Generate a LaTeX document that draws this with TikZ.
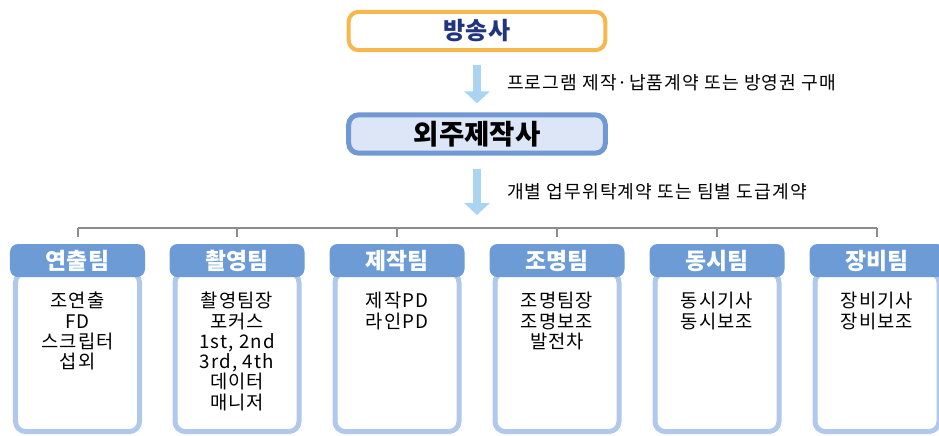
\documentclass[tikz,border=0pt]{standalone}
\usepackage{fontspec}
\setmainfont{Noto Sans CJK KR}
\newfontfamily\krspaced[LetterSpace=6]{Noto Sans CJK KR}
\usetikzlibrary{arrows.meta, positioning}

\definecolor{bcorange}{RGB}{247,183,76}
\definecolor{bcnavy}{RGB}{32,52,128}
\definecolor{prodfill}{RGB}{221,230,247}
\definecolor{prodline}{RGB}{112,153,211}
\definecolor{arrowblue}{RGB}{170,212,242}
\definecolor{teamblue}{RGB}{108,155,214}
\definecolor{bodyline}{RGB}{176,200,236}
\definecolor{busgray}{RGB}{140,140,140}

\begin{document}
\begin{tikzpicture}[x=0.3mm, y=-0.3mm,
	mainbox/.style={rectangle, rounded corners=3mm, minimum width=77mm, minimum height=11.5mm},
	flowarrow/.style={draw=arrowblue, line width=2.4mm, -{Triangle[width=7.5mm, length=3.6mm]}},
	flowlabel/.style={inner sep=0pt, anchor=west, font=\krspaced\fontsize{15.5}{18}\selectfont},
	busline/.style={draw=busgray, line width=0.6mm},
	teamhead/.style={rectangle, rounded corners=2.4mm, fill=teamblue, text=white, minimum width=40.5mm, minimum height=9.9mm, font=\bfseries\fontsize{19.5}{22}\selectfont},
	teambody/.style={rectangle, rounded corners=3mm, draw=bodyline, line width=1.5mm, fill=white, minimum width=37.2mm, minimum height=47.7mm},
	teamlist/.style={inner sep=0pt, anchor=north, align=center, font=\krspaced\fontsize{16}{17.3}\selectfont}
	]
	\clip (0,0) rectangle (939,435);
	
	% Broadcaster and production company
	\node[mainbox, draw=bcorange, line width=1.2mm, fill=white, text=bcnavy, font=\bfseries\fontsize{20.5}{22}\selectfont] (bcast) at (477,31) {방송사};
	\node[mainbox, draw=prodline, line width=1.5mm, fill=prodfill, font=\bfseries\fontsize{23.5}{26}\selectfont] (prod) at (477,134) {외주제작사};
	\coordinate (bus) at (477,228);
	
	% Contracts
	\draw[flowarrow, shorten <=3.9mm, shorten >=2.7mm] (bcast) -- (prod)
		node[flowlabel, midway, right=7.8mm] {프로그램 제작·납품계약 또는 방영권 구매};
	\draw[flowarrow, shorten <=3.9mm, shorten >=3.9mm] (prod.south) -- (bus)
		node[flowlabel, midway, right=7.8mm] {개별 업무위탁계약 또는 팀별 도급계약};
	
	% Team bodies
	\node[teambody] (b1) at (77.5,352) {};
	\node[teambody] (b2) at (237,352) {};
	\node[teambody] (b3) at (397,352) {};
	\node[teambody] (b4) at (557,352) {};
	\node[teambody] (b5) at (717,352) {};
	\node[teambody] (b6) at (877,352) {};
	
	% Team headers
	\node[teamhead] (h1) at (77.5,260.5) {연출팀};
	\node[teamhead] (h2) at (237,260.5) {촬영팀};
	\node[teamhead] (h3) at (397,260.5) {제작팀};
	\node[teamhead] (h4) at (557,260.5) {조명팀};
	\node[teamhead] (h5) at (717,260.5) {동시팀};
	\node[teamhead] (h6) at (877,260.5) {장비팀};
	
	% Members
	\node[teamlist, below=6.6mm of b1.north] (l1) {조연출\\FD\\스크립터\\섭외};
	\node[teamlist, below=6.6mm of b2.north] (l2) {촬영팀장\\포커스\\1st, 2nd\\3rd, 4th\\데이터\\매니저};
	\node[teamlist, below=6.6mm of b3.north] (l3) {제작PD\\라인PD};
	\node[teamlist, below=6.6mm of b4.north] (l4) {조명팀장\\조명보조\\발전차};
	\node[teamlist, below=6.6mm of b5.north] (l5) {동시기사\\동시보조};
	\node[teamlist, below=6.6mm of b6.north] (l6) {장비기사\\장비보조};
	
	% Bus to teams
	\draw[busline] (bus -| h1.north) -- (bus -| h6.north);
	\draw[busline, shorten >=2.1mm] (bus -| h1.north) -- (h1.north);
	\draw[busline, shorten >=2.1mm] (bus -| h2.north) -- (h2.north);
	\draw[busline, shorten >=2.1mm] (bus -| h3.north) -- (h3.north);
	\draw[busline, shorten >=2.1mm] (bus -| h4.north) -- (h4.north);
	\draw[busline, shorten >=2.1mm] (bus -| h5.north) -- (h5.north);
	\draw[busline, shorten >=2.1mm] (bus -| h6.north) -- (h6.north);
\end{tikzpicture}
\end{document}
